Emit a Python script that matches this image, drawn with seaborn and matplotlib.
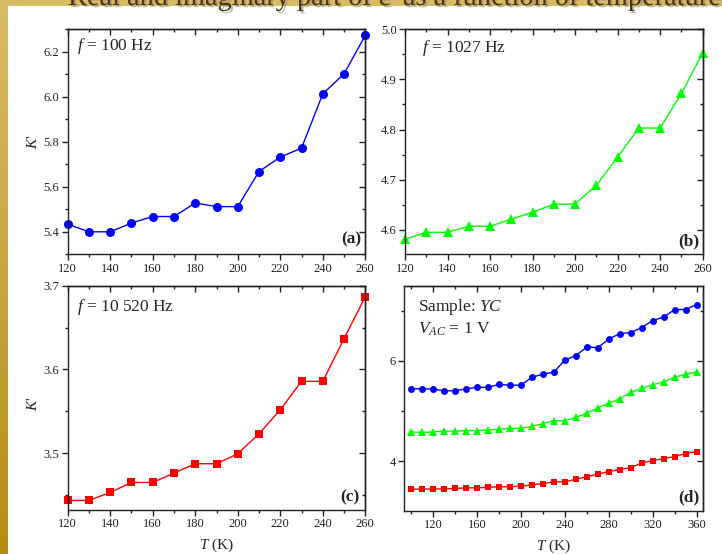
import matplotlib
matplotlib.use("Agg")
import matplotlib.pyplot as plt
import matplotlib.patheffects as pe
from matplotlib.colors import LinearSegmentedColormap
from matplotlib.patches import Rectangle
from matplotlib.ticker import MultipleLocator, FormatStrFormatter
import numpy as np
import seaborn as sns

# ---- data -----------------------------------------------------------------
T = [120, 130, 140, 150, 160, 170, 180, 190, 200, 210, 220, 230, 240, 250, 260]
k_100 = [5.434, 5.400, 5.400, 5.439, 5.468, 5.468, 5.528, 5.512, 5.512,
         5.668, 5.732, 5.772, 6.013, 6.102, 6.273]
k_1027 = [4.581, 4.595, 4.595, 4.607, 4.607, 4.621, 4.635, 4.651, 4.651,
          4.689, 4.745, 4.803, 4.803, 4.872, 4.953]
k_10520 = [3.4434, 3.4434, 3.4530, 3.4649, 3.4649, 3.4761, 3.4873, 3.4873,
           3.4992, 3.5231, 3.5518, 3.5857, 3.5857, 3.6367, 3.6869]

# wide temperature sweep (100-360 K)
T_low = [100, 110]
T_high = [270, 280, 290, 300, 310, 320, 330, 340, 350, 360]
k_100_low = [5.44, 5.44]
k_100_high = [6.26, 6.43, 6.54, 6.56, 6.66, 6.80, 6.87, 7.02, 7.02, 7.12]
k_1027_low = [4.58, 4.57]
k_1027_high = [5.06, 5.15, 5.24, 5.37, 5.45, 5.52, 5.58, 5.67, 5.73, 5.78]
k_10520_low = [3.44, 3.44]
k_10520_high = [3.74, 3.79, 3.83, 3.87, 3.96, 4.01, 4.05, 4.09, 4.15, 4.19]

T_full = T_low + T + T_high
k_100_full = k_100_low + k_100 + k_100_high
k_1027_full = k_1027_low + k_1027 + k_1027_high
k_10520_full = k_10520_low + k_10520 + k_10520_high

BLUE, GREEN, RED = "#0000ff", "#00ff00", "#ff0000"

# ---- style ----------------------------------------------------------------
sns.set_style("ticks")
plt.rcParams["font.family"] = ["Liberation Serif", "DejaVu Serif"]
plt.rcParams["mathtext.fontset"] = "custom"
plt.rcParams["mathtext.rm"] = "Liberation Serif"
plt.rcParams["mathtext.it"] = "Liberation Serif:italic"
plt.rcParams["mathtext.bf"] = "Liberation Serif:bold"

W, H = 722, 554
fig = plt.figure(figsize=(W / 100, H / 100), dpi=100)

# slide backdrop: golden gradient with a white sheet on top
bg = fig.add_axes([0, 0, 1, 1], zorder=-10)
gold = LinearSegmentedColormap.from_list("gold", ["#d9bb66", "#c9a440", "#b48c12"])
bg.imshow(np.linspace(0, 1, 256).reshape(-1, 1), aspect="auto", cmap=gold,
          extent=[0, 1, 0, 1])
bg.set_axis_off()
fig.patches.append(Rectangle((8 / W, 0), 1 - 8 / W, 1 - 6 / H,
                             transform=fig.transFigure, facecolor="white",
                             edgecolor="none", zorder=-5))
fig.text(68 / W, 1 - 5 / H, "Real and imaginary part of \u03b5' as a function of temperature",
         fontsize=20.4, color="#4f3508", ha="left", va="baseline", zorder=-4,
         path_effects=[pe.withSimplePatchShadow(offset=(1.5, -1.5),
                                                shadow_rgbFace="#8a8a8a", alpha=0.6)])


def px_rect(left, right, top, bottom):
    return [left / W, 1 - bottom / H, (right - left) / W, (bottom - top) / H]


def panel(rect, x, y, color, marker, ms, xlim, ylim, xmaj, xmin, ymaj, ymin, yfmt):
    ax = fig.add_axes(rect)
    sns.lineplot(x=x, y=y, ax=ax, color=color, marker=marker, markersize=ms,
                 markeredgewidth=0, linewidth=1.0, estimator=None, sort=False,
                 clip_on=False)
    ax.set_xlim(*xlim)
    ax.set_ylim(*ylim)
    ax.set_xlabel("")
    ax.set_ylabel("")
    for s in ax.spines.values():
        s.set_visible(True)
        s.set_linewidth(1.0)
        s.set_color("#222222")
    ax.xaxis.set_major_locator(MultipleLocator(xmaj))
    ax.xaxis.set_minor_locator(MultipleLocator(xmin))
    ax.yaxis.set_major_locator(MultipleLocator(ymaj))
    ax.yaxis.set_minor_locator(MultipleLocator(ymin))
    ax.yaxis.set_major_formatter(FormatStrFormatter(yfmt))
    ax.xaxis.set_major_formatter(FormatStrFormatter("%d"))
    ax.tick_params(which="both", direction="out", top=False, right=False,
                   labelsize=9, pad=2, colors="#222222")
    ax.tick_params(which="major", length=4, width=1)
    ax.tick_params(which="minor", length=2.5, width=1)
    # mirrored inward ticks on the top and right edges
    top = ax.secondary_xaxis("top")
    top.xaxis.set_major_locator(MultipleLocator(xmaj))
    top.xaxis.set_minor_locator(MultipleLocator(xmin))
    top.tick_params(which="both", direction="in", labeltop=False, colors="#222222")
    top.tick_params(which="major", length=4, width=1)
    top.tick_params(which="minor", length=2.5, width=1)
    right = ax.secondary_yaxis("right")
    right.yaxis.set_major_locator(MultipleLocator(ymaj))
    right.yaxis.set_minor_locator(MultipleLocator(ymin))
    right.tick_params(which="both", direction="in", labelright=False, colors="#222222")
    right.tick_params(which="major", length=4, width=1)
    right.tick_params(which="minor", length=2.5, width=1)
    for sec in (top, right):
        for s in sec.spines.values():
            s.set_linewidth(1.0)
            s.set_color("#222222")
    return ax


def letter(ax, txt, xr, yb):
    ax.text(xr, yb, txt, transform=ax.transAxes, ha="right", va="baseline",
            fontsize=12.5, fontweight="bold")


def ylab(ax, ypos=0.5):
    ax.set_ylabel(r"$K$'", fontsize=11, rotation=90, va="center", ha="center")
    ax.yaxis.set_label_coords(-0.117, ypos)


def xlab(ax):
    ax.set_xlabel(r"$T$ (K)", fontsize=11, va="center", ha="center")
    ax.xaxis.set_label_coords(0.5, -0.159)


# (a) f = 100 Hz
ax_a = panel(px_rect(67.7, 365.3, 29.3, 254.3), T, k_100, BLUE, "o", 6.5,
             (120, 260), (5.30, 6.30), 20, 10, 0.2, 0.1, "%.1f")
ax_a.text(0.03, 0.908, r"$f$ = 100 Hz", transform=ax_a.transAxes,
          fontsize=12.5, va="baseline")
letter(ax_a, "(a)", 0.987, 0.049)
ylab(ax_a)

# (b) f = 1027 Hz
ax_b = panel(px_rect(405.0, 702.7, 29.3, 254.3), T, k_1027, GREEN, "^", 7,
             (120, 260), (4.551, 5.0), 20, 10, 0.1, 0.05, "%.1f")
ax_b.text(0.056, 0.90, r"$f$ = 1027 Hz", transform=ax_b.transAxes,
          fontsize=12.5, va="baseline")
letter(ax_b, "(b)", 0.988, 0.041)

# (c) f = 10 520 Hz
ax_c = panel(px_rect(67.7, 365.3, 285.7, 510.0), T, k_10520, RED, "s", 6,
             (120, 260), (3.432, 3.70), 20, 10, 0.1, 0.05, "%.1f")
ax_c.text(0.03, 0.889, r"$f$ = 10 520 Hz", transform=ax_c.transAxes,
          fontsize=12.5, va="baseline")
letter(ax_c, "(c)", 0.982, 0.040)
ylab(ax_c, 0.475)
xlab(ax_c)

# (d) all three frequencies over the wide range
ax_d = panel(px_rect(404.3, 702.7, 285.7, 510.7), T_full, k_100_full, BLUE, "o", 5,
             (93.9, 365.5), (3.01, 7.495), 40, 20, 2, 1, "%d")
sns.lineplot(x=T_full, y=k_1027_full, ax=ax_d, color=GREEN, marker="^",
             markersize=5.5, markeredgewidth=0, linewidth=1.0, estimator=None)
sns.lineplot(x=T_full, y=k_10520_full, ax=ax_d, color=RED, marker="s",
             markersize=4.5, markeredgewidth=0, linewidth=1.0, estimator=None)
ax_d.set_xlabel("")
ax_d.set_ylabel("")
ax_d.text(0.046, 0.889, r"Sample: $YC$", transform=ax_d.transAxes,
          fontsize=12.5, va="baseline")
ax_d.text(0.046, 0.788, r"$V_{AC}$ = 1 V", transform=ax_d.transAxes,
          fontsize=12.5, va="baseline")
letter(ax_d, "(d)", 0.988, 0.043)
xlab(ax_d)

fig.savefig("out.png", dpi=100)
